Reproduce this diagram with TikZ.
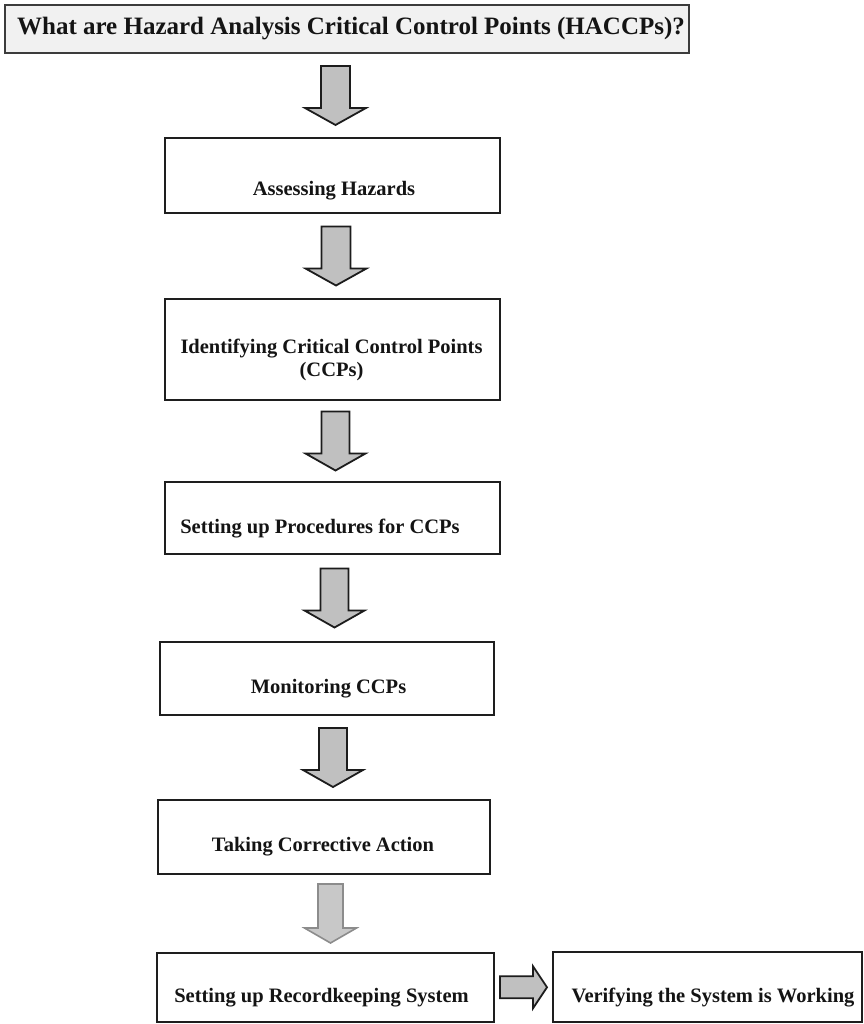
\documentclass[tikz,border=0pt]{standalone}
\usepackage{fontspec}
\setmainfont{Liberation Serif}
\usetikzlibrary{calc}

\definecolor{boxline}{HTML}{1E1E1E}
\definecolor{titleline}{HTML}{3C3C3C}
\definecolor{titlefill}{HTML}{F1F1F1}
\definecolor{arrowfill}{HTML}{C0C0C0}
\definecolor{arrowline}{HTML}{1C1C1C}
\definecolor{softfill}{HTML}{C8C8C8}
\definecolor{softline}{HTML}{8C8C8C}
\definecolor{inkcol}{HTML}{141414}

\tikzset{
  box/.style={draw=boxline, line width=2.2pt, fill=white, inner sep=0pt},
  titlebox/.style={box, draw=titleline, fill=titlefill},
  lbl/.style={font=\bfseries\fontsize{20.5}{23}\selectfont, anchor=base,
              inner sep=0pt, text=inkcol},
  titlelbl/.style={lbl, font=\bfseries\fontsize{25}{28}\selectfont},
  hollowarrow/.style={draw=arrowline, fill=arrowfill, line width=1.8pt,
                      line join=miter},
  softarrow/.style={draw=softline, fill=softfill, line width=1.6pt,
                    line join=miter},
  % downward block arrow, 59 long: shaft half-width, head half-width, head length
  pics/downarrow/.style n args={3}{code={
    \path[pic actions] (-#1,-29.5) -- (#1,-29.5) -- (#1,29.5-#3) -- (#2,29.5-#3)
      -- (0,29.5) -- (-#2,29.5-#3) -- (-#1,29.5-#3) -- cycle;
  }},
  % rightward block arrow, 47 long
  pics/rightarrow/.style n args={3}{code={
    \path[pic actions] (-23.5,-#1) -- (23.5-#3,-#1) -- (23.5-#3,-#2) -- (23.5,0)
      -- (23.5-#3,#2) -- (23.5-#3,#1) -- (-23.5,#1) -- cycle;
  }},
}

\begin{document}
\begin{tikzpicture}[x=1pt, y=-1pt]
  \useasboundingbox (0,0) rectangle (863,1024);

  % boxes
  \node[titlebox, minimum width=684pt, minimum height=48pt] (t)  at (347,29) {};
  \node[box, minimum width=335pt, minimum height=75pt]  (b2) at (332.5,175.5) {};
  \node[box, minimum width=335pt, minimum height=101pt] (b3) at (332.5,349.5) {};
  \node[box, minimum width=335pt, minimum height=72pt]  (b4) at (332.5,518) {};
  \node[box, minimum width=334pt, minimum height=73pt]  (b5) at (327,678.5) {};
  \node[box, minimum width=332pt, minimum height=74pt]  (b6) at (324,837) {};
  \node[box, minimum width=337pt, minimum height=69pt]  (b7) at (325.5,987.5) {};
  \node[box, minimum width=309pt, minimum height=70pt]  (b8) at (707.5,987) {};

  % labels
  \node[titlelbl] (tl) at (351,35) {What are Hazard Analysis Critical Control Points (HACCPs)?};
  \node[lbl] (l2)  at (334,196) {Assessing Hazards};
  \node[lbl] (l3a) at (331.5,353) {Identifying Critical Control Points};
  \node[lbl] (l3b) at (331.5,376) {(CCPs)};
  \node[lbl] (l4)  at (320,533) {Setting up Procedures for CCPs};
  \node[lbl] (l5)  at (328.5,693) {Monitoring CCPs};
  \node[lbl] (l6)  at (323,851) {Taking Corrective Action};
  \node[lbl] (l7)  at (321.5,1002) {Setting up Recordkeeping System};
  \node[lbl] (l8)  at (713,1002) {Verifying the System is Working};

  % midpoints between consecutive boxes
  \coordinate (m1) at ($(t.south)!0.5!(b2.north)$);
  \coordinate (m2) at ($(b2.south)!0.5!(b3.north)$);
  \coordinate (m3) at ($(b3.south)!0.5!(b4.north)$);
  \coordinate (m4) at ($(b4.south)!0.5!(b5.north)$);
  \coordinate (m5) at ($(b5.south)!0.5!(b6.north)$);
  \coordinate (m6) at ($(b6.south)!0.5!(b7.north)$);
  \coordinate (m7) at ($(b7.east)!0.5!(b8.west)$);

  % block arrows
  \pic[hollowarrow] at (335.5,0 |- m1) {downarrow={14.5}{30.5}{17}};
  \pic[hollowarrow] at (336,0 |- m2)   {downarrow={14.5}{30.5}{17}};
  \pic[hollowarrow] at (335.5,0 |- m3) {downarrow={14}{30}{17}};
  \pic[hollowarrow] at (334.5,0 |- m4) {downarrow={14}{30}{17}};
  \pic[hollowarrow] at (333,0 |- m5)   {downarrow={14}{30}{17}};
  \pic[softarrow]   at (330.5,0 |- m6) {downarrow={12.5}{26}{15}};
  \pic[hollowarrow] at (m7)            {rightarrow={11}{21}{14}};
\end{tikzpicture}
\end{document}
